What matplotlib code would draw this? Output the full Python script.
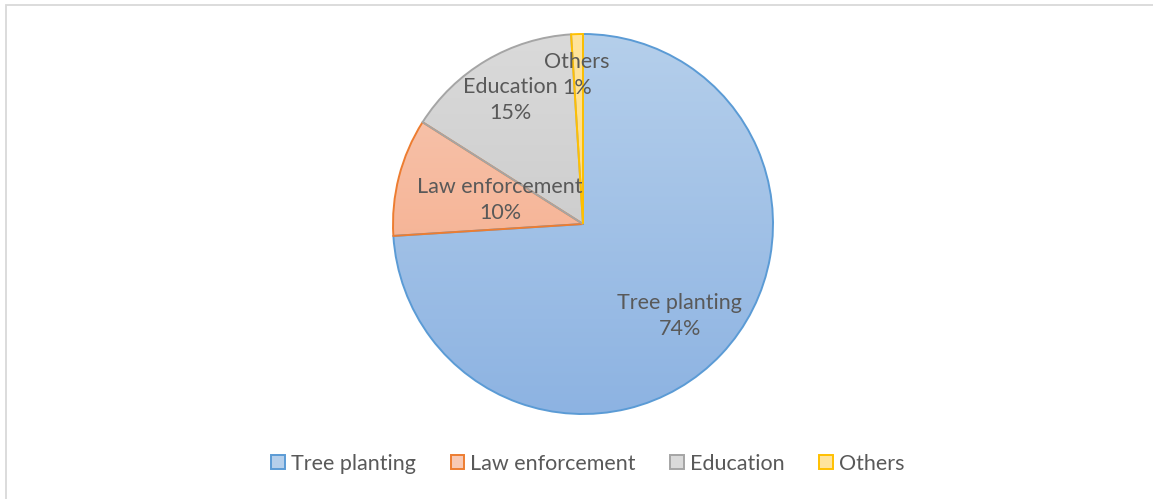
import numpy as np
import matplotlib
matplotlib.use("Agg")
import matplotlib.pyplot as plt
from matplotlib.colors import LinearSegmentedColormap
from matplotlib.patches import Rectangle

# spending split
labels = ["Tree planting", "Law enforcement", "Education", "Others"]
shares = [74, 10, 15, 1]

edge_colors = ["#5B9BD5", "#ED7D31", "#A5A5A5", "#FFC000"]
top_colors = ["#B5CFEB", "#F8C9B4", "#DADADA", "#FFE49C"]
bottom_colors = ["#8DB3E2", "#F4A47F", "#C2C2C2", "#FFD766"]

plt.rcParams["font.family"] = ["Lato", "DejaVu Sans"]
text_color = "#595959"
fsize = 15.5

W, H = 1153, 499
fig = plt.figure(figsize=(W / 100, H / 100), dpi=100)

# thin grey frame of the chart area
fig.patches.append(Rectangle((6 / W, -0.1), 1.2, (499 - 5) / H + 0.1, transform=fig.transFigure,
                             fill=False, edgecolor="#D9D9D9", linewidth=1.3))

cx, cy, r = 583, 224, 190
ax = fig.add_axes([(cx - r) / W, (H - cy - r) / H, 2 * r / W, 2 * r / H])

wedges, _ = ax.pie(shares, startangle=90, counterclock=False, radius=1,
                   wedgeprops=dict(linewidth=1.4))
ax.set_xlim(-1, 1)
ax.set_ylim(-1, 1)
ax.axis("off")

# vertical gradient fill for each slice
grad = np.linspace(0, 1, 256).reshape(-1, 1)
for w, ec, c_top, c_bot in zip(wedges, edge_colors, top_colors, bottom_colors):
    w.set_facecolor("none")
    w.set_edgecolor(ec)
    w.set_zorder(3)
    cmap = LinearSegmentedColormap.from_list("g", [c_bot, c_top])
    im = ax.imshow(grad, cmap=cmap, extent=[-1, 1, -1, 1], origin="lower",
                   aspect="auto", zorder=2, interpolation="bilinear")
    im.set_clip_path(w)

# data labels (name + percent) inside the slices
label_pos = [(0.51, -0.484), (-0.437, 0.126), (-0.384, 0.653), (-0.032, 0.784)]
for name, val, (lx, ly) in zip(labels, shares, label_pos):
    ax.text(lx, ly, f"{name}\n{val}%", ha="center", va="center", fontsize=fsize,
            color=text_color, linespacing=1.33, zorder=5)

handles = [Rectangle((0, 0), 1, 1, facecolor=c, edgecolor=ec, linewidth=1.4)
           for c, ec in zip(top_colors, edge_colors)]
fig.legend(handles, labels, loc="center", bbox_to_anchor=(588 / W, 1 - 464 / H), ncol=4,
           frameon=False, fontsize=fsize, labelcolor=text_color, handlelength=0.62,
           handleheight=0.62, handletextpad=0.3, columnspacing=1.6)

fig.savefig("out.png", dpi=100, facecolor="white")
